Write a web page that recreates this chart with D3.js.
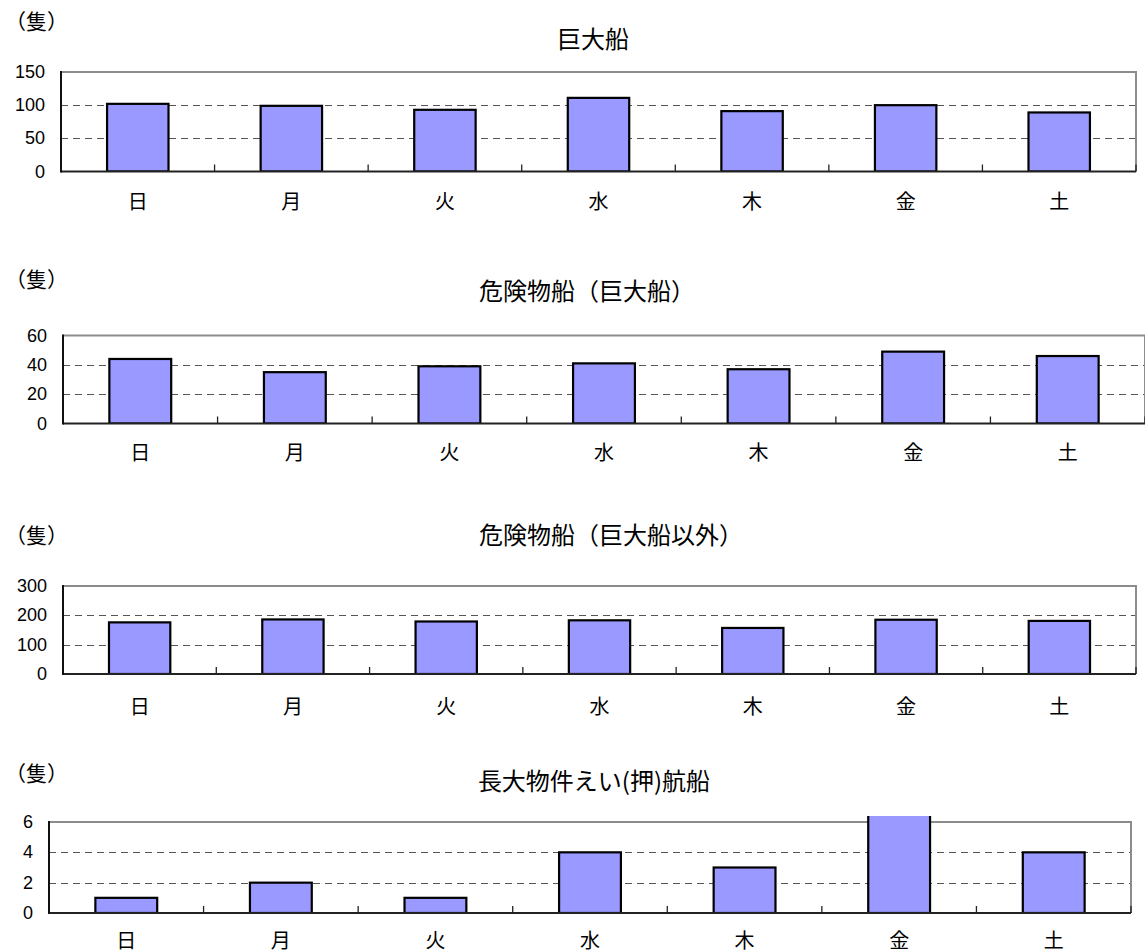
<!DOCTYPE html>
<html>
<head>
<meta charset="utf-8">
<script src="https://cdn.jsdelivr.net/npm/d3@7"></script>
<style>
  body { margin: 0; background: #fff; }
  svg { display: block; }
</style>
</head>
<body>
<div id="chart"></div>
<script>
// categories (days of week)
const days = ['日', '月', '火', '水', '木', '金', '土'];
const unitLabel = '（隻）';

// series values
const giantShips = [102, 99, 93, 111, 91, 100, 89];
const hazardGiant = [44, 35, 39, 41, 37, 49, 46];
const hazardOther = [176, 186, 179, 183, 157, 185, 181];
const longTow = [1, 2, 1, 4, 3, 7, 4];

// titles and y tick labels
const titles = ['巨大船', '危険物船（巨大船）', '危険物船（巨大船以外）', '長大物件えい(押)航船'];
const ticks1 = [0, 50, 100, 150];
const ticks2 = [0, 20, 40, 60];
const ticks3 = [0, 100, 200, 300];
const ticks4 = [0, 2, 4, 6];

// panel layout (pixels)
const panels = [
    { values: giantShips, ticks: ticks1, title: titles[0], left: 61, right: 1136, top: 72, bottom: 171.5, titleX: 593, titleY: 37, unitY: 20, labelOff: 29 },
    { values: hazardGiant, ticks: ticks2, title: titles[1], left: 63, right: 1145, top: 335.5, bottom: 423.5, titleX: 587, titleY: 289, unitY: 278, labelOff: 28 },
    { values: hazardOther, ticks: ticks3, title: titles[2], left: 63, right: 1136, top: 586, bottom: 674, titleX: 611, titleY: 533, unitY: 534, labelOff: 31 },
    { values: longTow, ticks: ticks4, title: titles[3], left: 49, right: 1131, top: 822, bottom: 913, titleX: 594, titleY: 779, unitY: 772, labelOff: 26 }
];

const width = 1145;
const height = 952;
const jpFont = '"Noto Sans CJK JP", sans-serif';
const numFont = '"Liberation Sans", Arial, sans-serif';

const svg = d3.select('#chart')
    .append('svg')
    .attr('width', width)
    .attr('height', height);

panels.forEach(function(p, idx) {
    const g = svg.append('g').attr('class', 'panel-' + idx);

    const x = d3.scaleBand()
        .domain(days)
        .range([p.left, p.right])
        .paddingInner(0.6)
        .paddingOuter(0.3);

    const y = d3.scaleLinear()
        .domain([0, d3.max(p.ticks)])
        .range([p.bottom, p.top]);

    // unit label + title
    g.append('text')
        .attr('x', 5)
        .attr('y', p.unitY)
        .attr('dominant-baseline', 'central')
        .style('font-family', jpFont)
        .style('font-size', '21px')
        .text(unitLabel);

    g.append('text')
        .attr('x', p.titleX)
        .attr('y', p.titleY)
        .attr('text-anchor', 'middle')
        .attr('dominant-baseline', 'central')
        .style('font-family', jpFont)
        .style('font-size', '24px')
        .text(p.title);

    // dashed gridlines (skip 0 and max)
    g.append('g')
        .selectAll('line')
        .data(p.ticks.slice(1, -1))
        .join('line')
        .attr('x1', p.left)
        .attr('x2', p.right)
        .attr('y1', function(d) { return Math.round(y(d)) + 0.5; })
        .attr('y2', function(d) { return Math.round(y(d)) + 0.5; })
        .attr('stroke', '#555')
        .attr('stroke-width', 1.2)
        .attr('stroke-dasharray', '7,5');

    // plot frame: gray top and right
    g.append('path')
        .attr('d', 'M' + p.left + ',' + p.top + 'H' + p.right + 'V' + p.bottom)
        .attr('fill', 'none')
        .attr('stroke', '#8c8c8c')
        .attr('stroke-width', 2);

    // bars, clipped a few px above the plot for overflowing values
    const clipId = 'clip' + idx;
    svg.append('clipPath').attr('id', clipId)
        .append('rect')
        .attr('x', p.left - 5)
        .attr('y', p.top - 6)
        .attr('width', p.right - p.left + 10)
        .attr('height', p.bottom - p.top + 6);

    g.append('g')
        .attr('clip-path', 'url(#' + clipId + ')')
        .selectAll('rect')
        .data(p.values)
        .join('rect')
        .attr('x', function(d, i) { return x(days[i]); })
        .attr('y', function(d) { return y(d); })
        .attr('width', x.bandwidth())
        .attr('height', function(d) { return p.bottom - y(d); })
        .attr('fill', '#9999ff')
        .attr('stroke', '#000')
        .attr('stroke-width', 2.2);

    // x axis: black baseline with inward ticks at category boundaries
    const step = x.step();
    g.append('line')
        .attr('x1', p.left).attr('x2', p.right)
        .attr('y1', p.bottom).attr('y2', p.bottom)
        .attr('stroke', '#222')
        .attr('stroke-width', 2);

    g.append('g')
        .selectAll('line')
        .data(d3.range(1, days.length + 1))
        .join('line')
        .attr('x1', function(i) { return p.left + i * step; })
        .attr('x2', function(i) { return p.left + i * step; })
        .attr('y1', p.bottom)
        .attr('y2', p.bottom - 7)
        .attr('stroke', '#222')
        .attr('stroke-width', 1.3);

    // y axis line
    g.append('line')
        .attr('x1', p.left).attr('x2', p.left)
        .attr('y1', p.top - 1).attr('y2', p.bottom + 1)
        .attr('stroke', '#111')
        .attr('stroke-width', 2);

    // y tick labels
    g.append('g')
        .selectAll('text')
        .data(p.ticks)
        .join('text')
        .attr('x', p.left - 16)
        .attr('y', function(d) { return y(d); })
        .attr('text-anchor', 'end')
        .attr('dominant-baseline', 'central')
        .style('font-family', numFont)
        .style('font-size', '18px')
        .text(function(d) { return d; });

    // category labels
    g.append('g')
        .selectAll('text')
        .data(days)
        .join('text')
        .attr('x', function(d) { return x(d) + x.bandwidth() / 2; })
        .attr('y', p.bottom + p.labelOff)
        .attr('text-anchor', 'middle')
        .attr('dominant-baseline', 'central')
        .style('font-family', jpFont)
        .style('font-size', '20px')
        .text(function(d) { return d; });
});
</script>
</body>
</html>
